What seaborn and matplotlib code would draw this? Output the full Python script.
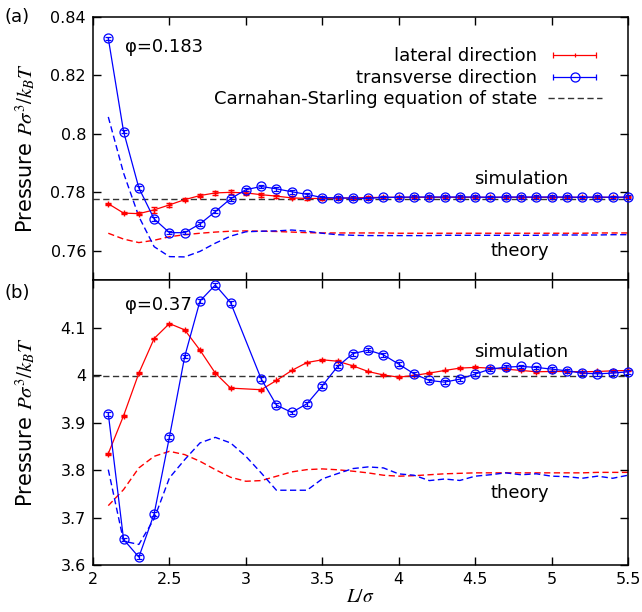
import numpy as np
import pandas as pd
import matplotlib
matplotlib.use("Agg")
import matplotlib.pyplot as plt
import seaborn as sns
from matplotlib.lines import Line2D
from matplotlib.legend_handler import HandlerLine2D, HandlerTuple
from matplotlib.ticker import FormatStrFormatter

# ---------------- data ----------------
x_theory = [2.1, 2.2, 2.3, 2.4, 2.5, 2.6, 2.7, 2.8, 2.9, 3.0, 3.1, 3.2, 3.3, 3.4, 3.5,
            3.6, 3.7, 3.8, 3.9, 4.0, 4.1, 4.2, 4.3, 4.4, 4.5, 4.6, 4.7, 4.8, 4.9, 5.0,
            5.1, 5.2, 5.3, 5.4, 5.5]

# (a) phi = 0.183
x_sim_a = x_theory
lateral_a = [0.7761, 0.7729, 0.7727, 0.7740, 0.7757, 0.7775, 0.7789, 0.7798, 0.7800, 0.7798,
             0.7792, 0.7787, 0.7781, 0.7779, 0.7779, 0.7780, 0.7781, 0.7782, 0.7783, 0.7783,
             0.7783, 0.7783, 0.7783, 0.7783, 0.7783, 0.7783, 0.7783, 0.7783, 0.7783, 0.7783,
             0.7783, 0.7783, 0.7783, 0.7783, 0.7783]
lateral_a_err = [0.0004, 0.0004, 0.0004, 0.0011, 0.0008, 0.0006, 0.0006, 0.0007, 0.0007, 0.0007,
                 0.0007, 0.0005, 0.0005, 0.0004, 0.0004, 0.0004, 0.0004, 0.0004, 0.0004, 0.0004,
                 0.0004, 0.0004, 0.0004, 0.0004, 0.0004, 0.0004, 0.0004, 0.0004, 0.0004, 0.0004,
                 0.0004, 0.0004, 0.0004, 0.0004, 0.0004]
transverse_a = [0.8327, 0.8008, 0.7815, 0.7709, 0.7662, 0.7662, 0.7692, 0.7734, 0.7778, 0.7809,
                0.7820, 0.7812, 0.7802, 0.7793, 0.7782, 0.7781, 0.7780, 0.7779, 0.7783, 0.7783,
                0.7784, 0.7784, 0.7784, 0.7784, 0.7784, 0.7783, 0.7784, 0.7784, 0.7784, 0.7784,
                0.7784, 0.7783, 0.7784, 0.7783, 0.7784]
transverse_a_err = [0.0006] * len(x_sim_a)
theory_lat_a = [0.7660, 0.7640, 0.7628, 0.7636, 0.7648, 0.7655, 0.7660, 0.7664, 0.7667, 0.7668,
                0.7667, 0.7666, 0.7664, 0.7662, 0.7661, 0.7661, 0.7661, 0.7661, 0.7661, 0.7660,
                0.7660, 0.7660, 0.7660, 0.7660, 0.7660, 0.7660, 0.7660, 0.7660, 0.7660, 0.7660,
                0.7660, 0.7660, 0.7661, 0.7661, 0.7661]
theory_tra_a = [0.8058, 0.7866, 0.7717, 0.7614, 0.7580, 0.7579, 0.7598, 0.7626, 0.7650, 0.7665,
                0.7667, 0.7668, 0.7671, 0.7667, 0.7660, 0.7655, 0.7653, 0.7652, 0.7652, 0.7652,
                0.7652, 0.7652, 0.7653, 0.7653, 0.7653, 0.7653, 0.7653, 0.7653, 0.7653, 0.7654,
                0.7654, 0.7654, 0.7654, 0.7655, 0.7655]
cs_a = 0.7778

# (b) phi = 0.37
x_sim_b = [2.1, 2.2, 2.3, 2.4, 2.5, 2.6, 2.7, 2.8, 2.9, 3.1, 3.2, 3.3, 3.4, 3.5, 3.6,
           3.7, 3.8, 3.9, 4.0, 4.1, 4.2, 4.3, 4.4, 4.5, 4.6, 4.7, 4.8, 4.9, 5.0, 5.1,
           5.2, 5.3, 5.4, 5.5]
lateral_b = [3.8345, 3.9143, 4.0039, 4.0768, 4.1083, 4.0950, 4.0523, 4.0040, 3.9724, 3.9690,
             3.9885, 4.0095, 4.0263, 4.0320, 4.0290, 4.0193, 4.0074, 4.0000, 3.9955, 3.9990,
             4.0040, 4.0095, 4.0145, 4.0160, 4.0145, 4.0124, 4.0096, 4.0068, 4.0074, 4.0074,
             4.0068, 4.0074, 4.0088, 4.0095]
lateral_b_err = [0.002] * len(x_sim_b)
transverse_b = [3.9185, 3.6538, 3.6166, 3.7077, 3.8695, 4.0389, 4.1559, 4.1895, 4.1524, 3.9920,
                3.9367, 3.9212, 3.9395, 3.9773, 4.0179, 4.0450, 4.0523, 4.0424, 4.0229, 4.0025,
                3.9885, 3.9850, 3.9913, 4.0020, 4.0124, 4.0166, 4.0180, 4.0160, 4.0124, 4.0088,
                4.0040, 4.0025, 4.0040, 4.0068]
transverse_b_err = [0.004] * len(x_sim_b)
theory_lat_b = [3.7250, 3.7588, 3.8044, 3.8288, 3.8393, 3.8324, 3.8183, 3.8008, 3.7847, 3.7763,
                3.7777, 3.7868, 3.7960, 3.8008, 3.8023, 3.8005, 3.7975, 3.7939, 3.7890, 3.7870,
                3.7880, 3.7900, 3.7920, 3.7930, 3.7940, 3.7940, 3.7940, 3.7940, 3.7940, 3.7940,
                3.7940, 3.7940, 3.7950, 3.7950, 3.7950]
theory_tra_b = [3.8008, 3.6502, 3.6433, 3.6972, 3.7834, 3.8218, 3.8570, 3.8687, 3.8570, 3.8288,
                3.7939, 3.7574, 3.7574, 3.7574, 3.7813, 3.7924, 3.8030, 3.8065, 3.8044, 3.7918,
                3.7890, 3.7777, 3.7810, 3.7780, 3.7870, 3.7900, 3.7940, 3.7900, 3.7920, 3.7870,
                3.7860, 3.7826, 3.7870, 3.7826, 3.7890]
cs_b = 3.998

x_ticks = [2, 2.5, 3, 3.5, 4, 4.5, 5, 5.5]
y_ticks_a = [0.76, 0.78, 0.80, 0.82, 0.84]
y_ticks_b = [3.6, 3.7, 3.8, 3.9, 4.0, 4.1]

# ---------------- style ----------------
sns.set_style("ticks", {"axes.edgecolor": "black", "xtick.color": "black",
                        "ytick.color": "black", "text.color": "black",
                        "axes.labelcolor": "black"})
plt.rcParams["font.family"] = ["DejaVu Sans"]
plt.rcParams["mathtext.fontset"] = "stix"
plt.rcParams["axes.linewidth"] = 1.1

RED = "#ff0000"
BLUE = "#0000ff"
DASH = (0, (4.5, 2.5))

fig = plt.figure(figsize=(6.42, 6.12), dpi=100)
ax_a = fig.add_axes([93 / 642, 1 - 280 / 612, 535 / 642, 263 / 612])
ax_b = fig.add_axes([93 / 642, 1 - 565 / 612, 535 / 642, 285 / 612])


def draw_panel(ax, x_sim, lat, lat_err, tra, tra_err, th_lat, th_tra, cs):
    df_th = pd.DataFrame({"L": x_theory, "lat": th_lat, "tra": th_tra})
    sns.lineplot(data=df_th, x="L", y="lat", ax=ax, color=RED, lw=1.0,
                 linestyle=DASH, zorder=2)
    sns.lineplot(data=df_th, x="L", y="tra", ax=ax, color=BLUE, lw=1.0,
                 linestyle=DASH, zorder=2)
    ax.axhline(cs, color="#333333", lw=1.0, linestyle=DASH, zorder=1)
    c1 = ax.errorbar(x_sim, lat, yerr=lat_err, color=RED, lw=0.9, marker="+", ms=5,
                     mew=1.0, elinewidth=0.9, capsize=2.5, capthick=0.9, zorder=3)
    c2 = ax.errorbar(x_sim, tra, yerr=tra_err, color=BLUE, lw=0.9, marker="o", ms=6.5,
                     mfc="none", mew=0.9, elinewidth=0.9, capsize=2.5, capthick=0.9,
                     zorder=4)
    for c in (c1, c2):
        for art in c.get_children():
            art.set_clip_on(False)
    ax.set_xlim(2, 5.5)
    ax.set_xticks(x_ticks)
    ax.xaxis.set_major_formatter(FormatStrFormatter("%g"))
    ax.yaxis.set_major_formatter(FormatStrFormatter("%g"))
    ax.tick_params(direction="in", top=True, right=True, length=6, width=1.0,
                   labelsize=11.5, pad=5, colors="black")
    for s in ax.spines.values():
        s.set_visible(True)
        s.set_linewidth(1.1)
        s.set_color("black")
    ax.set_xlabel("")
    ax.set_ylabel("Pressure $P\\sigma^3/k_BT$", fontsize=15)
    ax.yaxis.set_label_coords(-0.102, 0.5)


draw_panel(ax_a, x_sim_a, lateral_a, lateral_a_err, transverse_a, transverse_a_err,
           theory_lat_a, theory_tra_a, cs_a)
draw_panel(ax_b, x_sim_b, lateral_b, lateral_b_err, transverse_b, transverse_b_err,
           theory_lat_b, theory_tra_b, cs_b)

ax_a.set_ylim(0.75, 0.84)
ax_a.set_yticks(y_ticks_a)
ax_a.tick_params(labelbottom=False)
ax_b.set_ylim(3.6, 4.2)
ax_b.set_yticks(y_ticks_b)
ax_b.set_xlabel("$L/\\sigma$", fontsize=14, labelpad=0)

# annotations
ax_a.text(2.21, 0.8297, "φ=0.183", fontsize=13, va="center", ha="left")
ax_b.text(2.21, 4.147, "φ=0.37", fontsize=13, va="center", ha="left")
ax_a.text(4.80, 0.7847, "simulation", fontsize=13, va="center", ha="center")
ax_a.text(4.79, 0.7600, "theory", fontsize=13, va="center", ha="center")
ax_b.text(4.80, 4.049, "simulation", fontsize=13, va="center", ha="center")
ax_b.text(4.79, 3.752, "theory", fontsize=13, va="center", ha="center")
fig.text(4 / 642, 1 - 17 / 612, "(a)", fontsize=13, va="center", ha="left")
fig.text(4 / 642, 1 - 293 / 612, "(b)", fontsize=13, va="center", ha="left")

# legend (gnuplot style)
caps_r = Line2D([], [], color=RED, lw=0.9, marker="|", ms=5, mew=0.9)
mid_r = Line2D([], [], color=RED, lw=0, marker="|", ms=3, mew=0.9)
caps_b = Line2D([], [], color=BLUE, lw=0.9, marker="|", ms=5, mew=0.9)
mid_b = Line2D([], [], color=BLUE, lw=0, marker="o", ms=6.5, mfc="none", mew=0.9)
cs_h = Line2D([], [], color="#333333", lw=1.0, linestyle=DASH)
hmap = {caps_r: HandlerLine2D(numpoints=2), caps_b: HandlerLine2D(numpoints=2),
        mid_r: HandlerLine2D(numpoints=1), mid_b: HandlerLine2D(numpoints=1),
        tuple: HandlerTuple(ndivide=1, pad=0)}
ax_a.legend([(caps_r, mid_r), (caps_b, mid_b), cs_h],
            ["lateral direction", "transverse direction",
             "Carnahan-Starling equation of state"],
            handler_map=hmap, loc="upper right", bbox_to_anchor=(0.951, 0.885),
            frameon=False, markerfirst=False, fontsize=13, handlelength=3.0,
            handletextpad=0.6, labelspacing=0.2, borderpad=0, borderaxespad=0)

fig.savefig("out.png", dpi=100)
